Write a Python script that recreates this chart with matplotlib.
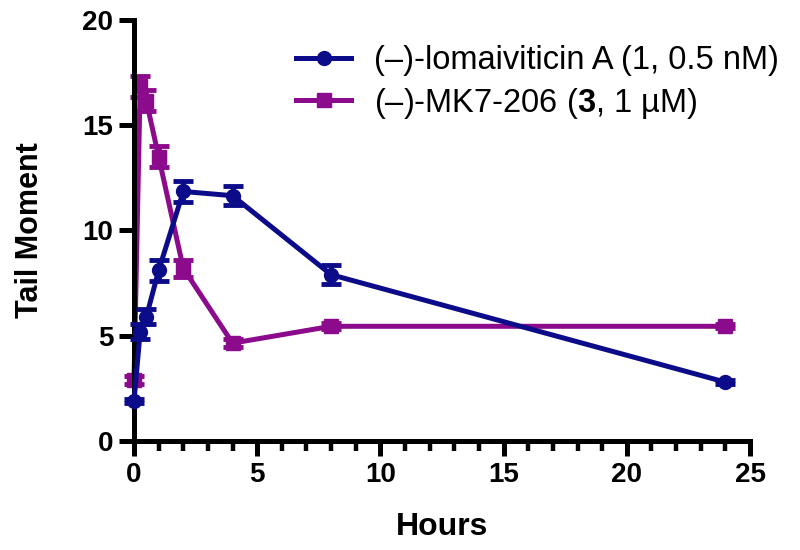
import matplotlib
matplotlib.use('Agg')
from matplotlib import pyplot as plt
from matplotlib.lines import Line2D
from matplotlib.ticker import MultipleLocator

# Data
hours = [0, 0.25, 0.5, 1, 2, 4, 8, 24]
lomai = [1.9, 5.2, 5.9, 8.1, 11.85, 11.65, 7.9, 2.8]
lomai_err = [0.1, 0.35, 0.35, 0.5, 0.5, 0.45, 0.45, 0.1]
mk7 = [2.9, 16.85, 16.15, 13.5, 8.2, 4.65, 5.45, 5.45]
mk7_err = [0.2, 0.5, 0.5, 0.5, 0.4, 0.2, 0.15, 0.1]

label1 = '(\u2013)-lomaiviticin A (1, 0.5 nM)'
label2 = '(\u2013)-MK7-206 ($\\mathbf{3}$, 1 \u00b5M)'

plt.rcParams['font.family'] = ['Liberation Sans', 'DejaVu Sans']
plt.rcParams['mathtext.fontset'] = 'custom'
plt.rcParams['mathtext.bf'] = 'Liberation Sans:bold'
plt.rcParams['mathtext.rm'] = 'Liberation Sans'

blue = '#0c0c8a'
purple = '#8c0a8c'

fig = plt.figure(figsize=(8, 5.5), dpi=100)
ax = fig.add_axes([0.1675, 0.198, 0.77, 0.766])

ax.errorbar(hours, lomai, yerr=lomai_err, c=blue, lw=3.6, marker='o', ms=10,
            capsize=7, capthick=3.5, elinewidth=3.5, clip_on=False, zorder=3)
ax.errorbar(hours, mk7, yerr=mk7_err, c=purple, lw=3.6, marker='s', ms=10,
            capsize=7, capthick=3.5, elinewidth=3.5, clip_on=False, zorder=2)

ax.set_xlim(0, 25)
ax.set_ylim(0, 20)
ax.xaxis.set_major_locator(MultipleLocator(5))
ax.xaxis.set_minor_locator(MultipleLocator(1))
ax.yaxis.set_major_locator(MultipleLocator(5))

for s in ['top', 'right']:
    ax.spines[s].set_visible(False)
for s in ['left', 'bottom']:
    ax.spines[s].set_linewidth(3.6)

ax.tick_params(axis='both', which='major', length=11, width=3.6, pad=4)
ax.tick_params(axis='x', which='minor', length=7, width=3.2)
for lab in ax.get_xticklabels() + ax.get_yticklabels():
    lab.set_fontweight('bold')
    lab.set_fontsize(20)

ax.set_xlabel('Hours', fontsize=23, fontweight='bold', labelpad=17)
ax.set_ylabel('Tail Moment', fontsize=22, fontweight='bold', labelpad=27)

handles = [Line2D([], [], c=blue, lw=3.6, marker='o', ms=10),
           Line2D([], [], c=purple, lw=3.6, marker='s', ms=10)]
ax.legend(handles, [label1, label2], loc='upper right', bbox_to_anchor=(1.095, 1.01),
          frameon=False, fontsize=23.5, handlelength=1.7, handletextpad=0.7,
          labelspacing=0.3)

fig.savefig('out.png', dpi=100)
